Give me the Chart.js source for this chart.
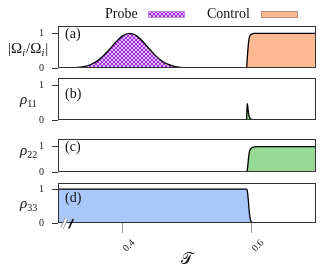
<!DOCTYPE html>
<html><head><meta charset="utf-8">
<script src="https://cdn.jsdelivr.net/npm/chart.js@4.4.1/dist/chart.umd.min.js"></script>
<style>
html,body{margin:0;padding:0;background:#fff;}
#wrap{position:relative;width:327px;height:270px;overflow:hidden;}
#wrap canvas{position:absolute;left:0;top:0;}
</style></head><body>
<div id="wrap">
<canvas id="ca" width="327" height="270"></canvas>
<canvas id="cb" width="327" height="270"></canvas>
<canvas id="cc" width="327" height="270"></canvas>
<canvas id="cd" width="327" height="270"></canvas>
</div>
<script>
// ---- data ----
const xTickValues = [0.4, 0.6];
const xTickLabels = ['0.4', '0.6'];
const yTickValues = [0, 1];
const yTickLabels = ['0', '1'];
const legendLabels = ['Probe', 'Control'];
const panelLabels = ['(a)', '(b)', '(c)', '(d)'];
const xAxisTitle = '\u{1D4AF}';

const probeT = [0.30, 0.32, 0.33, 0.34, 0.35, 0.36, 0.37, 0.38, 0.39, 0.40, 0.411, 0.42, 0.43, 0.44, 0.45, 0.46, 0.47, 0.48, 0.49, 0.50, 0.52, 0.70];
const probeV = [0.000, 0.005, 0.015, 0.040, 0.093, 0.190, 0.343, 0.542, 0.755, 0.926, 1.000, 0.950, 0.794, 0.585, 0.379, 0.216, 0.109, 0.048, 0.019, 0.006, 0.000, 0.000];

const controlT = [0.30, 0.592, 0.5925, 0.593, 0.594, 0.595, 0.596, 0.597, 0.598, 0.599, 0.601, 0.604, 0.608, 0.70];
const controlV = [0, 0, 0.03, 0.15, 0.42, 0.66, 0.82, 0.90, 0.945, 0.965, 0.985, 0.996, 1, 1];

const rho11T = [0.30, 0.5922, 0.5928, 0.5934, 0.5940, 0.5947, 0.5955, 0.5965, 0.598, 0.600, 0.603, 0.70];
const rho11V = [0, 0, 0.20, 0.47, 0.42, 0.30, 0.18, 0.10, 0.045, 0.015, 0, 0];

const rho22T = [0.30, 0.5925, 0.593, 0.594, 0.595, 0.596, 0.597, 0.598, 0.600, 0.602, 0.605, 0.609, 0.70];
const rho22V = [0, 0, 0.03, 0.18, 0.45, 0.68, 0.82, 0.89, 0.945, 0.97, 0.99, 1, 1];

const rho33T = [0.30, 0.5925, 0.593, 0.594, 0.595, 0.596, 0.597, 0.598, 0.599, 0.601, 0.604, 0.70];
const rho33V = [1, 1, 0.98, 0.88, 0.68, 0.45, 0.26, 0.13, 0.06, 0.015, 0, 0];

// ---- styles ----
const SERIF = '"Liberation Serif", "DejaVu Serif", serif';
const ORANGE = '#feb993';
const GREEN = '#97da95';
const BLUE = '#aac7fa';
const PURPLE = '#9a1fdc';

function makeHatch() {
  const c = document.createElement('canvas'); c.width = 4; c.height = 4;
  const g = c.getContext('2d');
  g.fillStyle = '#fff'; g.fillRect(0, 0, 4, 4);
  g.strokeStyle = PURPLE; g.lineWidth = 1.05;
  for (const o of [-4, 0, 4]) {
    g.beginPath(); g.moveTo(o, 0); g.lineTo(o + 4, 4); g.stroke();
    g.beginPath(); g.moveTo(o + 4, 0); g.lineTo(o, 4); g.stroke();
  }
  return g.createPattern(c, 'repeat');
}
const HATCH = makeHatch();

function ds(label, T, V, fillColor) {
  return {
    label, data: T.map((t, i) => ({x: t, y: V[i]})),
    borderColor: '#000', borderWidth: 1.3, backgroundColor: fillColor,
    fill: 'origin', pointRadius: 0, cubicInterpolationMode: 'monotone'
  };
}

function drawRich(ctx, pieces, x, y) {
  let cx = x;
  for (const p of pieces) {
    ctx.font = p.f;
    ctx.fillText(p.t, cx, y + (p.dy || 0));
    cx += ctx.measureText(p.t).width + (p.gap || 0);
  }
}

const deco = {
  id: 'deco',
  afterDraw(chart, args, o) {
    const ctx = chart.ctx, a = chart.chartArea;
    ctx.save();
    // frame
    ctx.strokeStyle = '#333'; ctx.lineWidth = 1;
    const l = Math.round(a.left) + 0.5, t = Math.round(a.top) + 0.5;
    const r = Math.round(a.right) - 0.5, b = Math.round(a.bottom) - 0.5;
    ctx.strokeRect(l, t, r - l, b - t);
    ctx.fillStyle = '#111'; ctx.textAlign = 'left'; ctx.textBaseline = 'alphabetic';
    // panel label
    ctx.font = '14px ' + SERIF;
    ctx.fillText(o.label, a.left + 7, o.labelY);
    // horizontal y title
    drawRich(ctx, o.ytitle, o.ytx, o.yty);
    if (o.legend) {
      ctx.font = '14px ' + SERIF; ctx.fillStyle = '#111';
      ctx.fillText(legendLabels[0], 105, 18);
      ctx.fillStyle = HATCH; ctx.fillRect(148, 11, 37, 6.5);
      ctx.strokeStyle = '#c08ae6'; ctx.strokeRect(148.5, 11.5, 36, 6);
      ctx.font = '14px ' + SERIF; ctx.fillStyle = '#111';
      ctx.fillText(legendLabels[1], 207, 18);
      ctx.fillStyle = ORANGE; ctx.fillRect(261, 11, 37, 6.5);
      ctx.strokeStyle = '#b8917e'; ctx.strokeRect(261.5, 11.5, 36, 6);
    }
    if (o.brk) {
      ctx.lineCap = 'butt';
      ctx.strokeStyle = '#8a8a8a'; ctx.lineWidth = 3.6;
      ctx.beginPath(); ctx.moveTo(62, 228); ctx.lineTo(66.5, 218.5); ctx.stroke();
      ctx.strokeStyle = '#fff'; ctx.lineWidth = 2;
      ctx.beginPath(); ctx.moveTo(62, 228); ctx.lineTo(66.5, 218.5); ctx.stroke();
      ctx.strokeStyle = '#111'; ctx.lineWidth = 1.7;
      ctx.beginPath(); ctx.moveTo(68.8, 228.5); ctx.lineTo(73.2, 219); ctx.stroke();
    }
    ctx.restore();
  }
};

function yScale(ymax) {
  return {
    min: 0, max: ymax,
    afterBuildTicks: s => { s.ticks = yTickValues.map(v => ({value: v})); },
    afterFit: s => { s.width = 58; s.paddingTop = 0; s.paddingBottom = 0; },
    ticks: {font: {family: SERIF, size: 10}, color: '#222', padding: 8,
            callback: v => yTickLabels[yTickValues.indexOf(v)]},
    grid: {drawOnChartArea: false, tickLength: 6, color: '#333', lineWidth: 1},
    border: {display: false}
  };
}

function xHidden() {
  return {type: 'linear', min: 0.3, max: 0.7, display: false};
}

function xShown() {
  return {
    type: 'linear', min: 0.3, max: 0.7,
    afterBuildTicks: s => { s.ticks = xTickValues.map(v => ({value: v})); },
    afterFit: s => { s.height = 47; s.paddingLeft = 0; s.paddingRight = 0; },
    ticks: {minRotation: 45, maxRotation: 45, autoSkip: false, labelOffset: 11, padding: 4,
            font: {family: SERIF, size: 10}, color: '#222',
            callback: v => xTickLabels[xTickValues.indexOf(v)]},
    grid: {drawOnChartArea: false, tickLength: 10, color: '#999', lineWidth: 1},
    border: {display: false},
    title: {display: true, text: xAxisTitle, color: '#111',
            font: {family: '"DejaVu Serif", "DejaVu Sans", "Noto Sans", serif', size: 16},
            padding: {top: 0, bottom: 1}}
  };
}

function make(id, datasets, cfg) {
  return new Chart(document.getElementById(id), {
    type: 'line',
    data: {datasets},
    options: {
      responsive: false, animation: false, events: [],
      layout: {padding: {left: 0, right: 11, top: cfg.top, bottom: cfg.bottom}},
      plugins: {legend: {display: false}, tooltip: {enabled: false}, deco: cfg.deco},
      scales: {x: cfg.x, y: yScale(cfg.ymax)}
    },
    plugins: [deco]
  });
}

const rhoPieces = sub => [
  {t: '\u03C1', f: 'italic 15px ' + SERIF},
  {t: sub, f: '10px ' + SERIF, dy: 3}
];

make('ca', [ds(legendLabels[0], probeT, probeV, HATCH), ds(legendLabels[1], controlT, controlV, ORANGE)], {
  top: 26, bottom: 270 - 68, ymax: 1.21, x: xHidden(),
  deco: {label: panelLabels[0], labelY: 37.5, ytx: 8, yty: 53, legend: true,
    ytitle: [
      {t: '|\u03A9', f: '15px ' + SERIF},
      {t: 'i', f: 'italic 10.5px ' + SERIF, dy: 3, gap: 1},
      {t: '/\u03A9', f: '15px ' + SERIF},
      {t: 'i', f: 'italic 10.5px ' + SERIF, dy: 3, gap: 1},
      {t: '|', f: '15px ' + SERIF}
    ]}
});
make('cb', [ds('rho11', rho11T, rho11V, GREEN)], {
  top: 78, bottom: 270 - 120, ymax: 1.2, x: xHidden(),
  deco: {label: panelLabels[1], labelY: 97.5, ytx: 20, yty: 103.5, ytitle: rhoPieces('11')}
});
make('cc', [ds('rho22', rho22T, rho22V, GREEN)], {
  top: 139, bottom: 270 - 172, ymax: 1.3, x: xHidden(),
  deco: {label: panelLabels[2], labelY: 151, ytx: 20, yty: 155, ytitle: rhoPieces('22')}
});
make('cd', [ds('rho33', rho33T, rho33V, BLUE)], {
  top: 183, bottom: 0, ymax: 1.18, x: xShown(),
  deco: {label: panelLabels[3], labelY: 202, ytx: 20, yty: 208, ytitle: rhoPieces('33'), brk: true}
});
</script>
</body></html>
